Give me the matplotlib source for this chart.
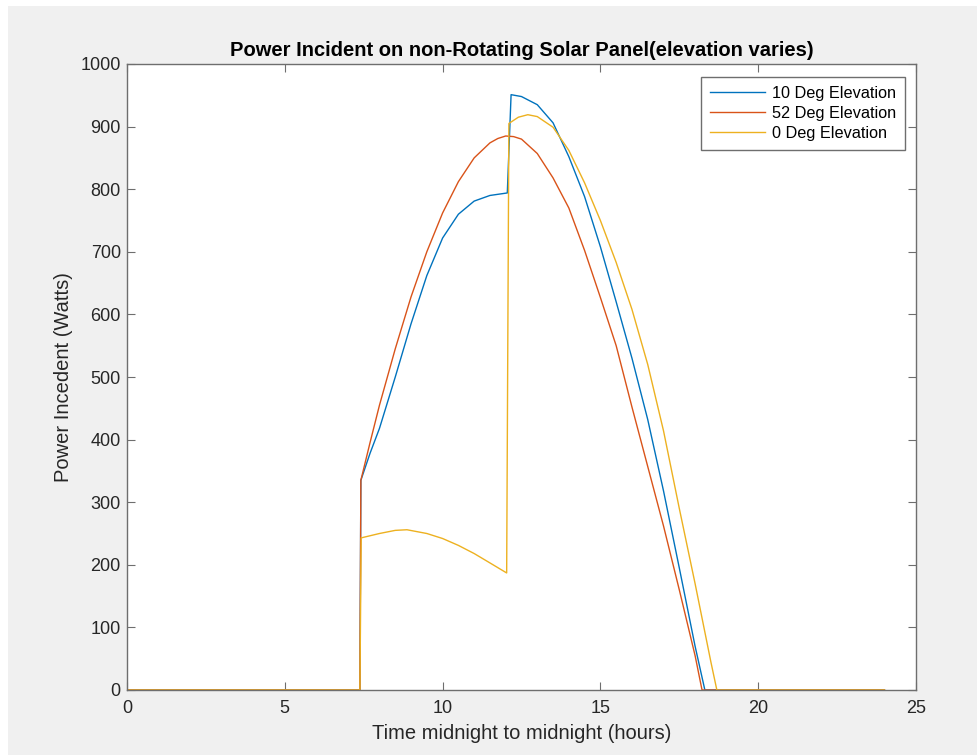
import matplotlib.pyplot as plt
from matplotlib.patches import Rectangle

# hours / watts
t10 = [0, 7.38, 7.41, 7.7, 8.0, 8.5, 9.0, 9.5, 10.0, 10.5, 11.0, 11.5, 12.05,
       12.17, 12.5, 13.0, 13.5, 14.0, 14.5, 15.0, 15.5, 16.0, 16.5, 17.0, 17.5, 18.0, 18.31, 24]
p10 = [0, 0, 335, 378, 418, 500, 585, 662, 722, 760, 781, 790, 794,
       951, 948, 935, 906, 852, 788, 708, 620, 530, 432, 318, 195, 70, 0, 0]

t52 = [0, 7.38, 7.41, 7.7, 8.0, 8.5, 9.0, 9.5, 10.0, 10.5, 11.0, 11.5, 11.75, 12.0,
       12.25, 12.5, 13.0, 13.5, 14.0, 14.5, 15.0, 15.5, 16.0, 16.5, 17.0, 17.5, 18.0, 18.22, 24]
p52 = [0, 0, 335, 395, 455, 545, 628, 700, 762, 812, 850, 874, 881, 885,
       884, 880, 857, 818, 770, 702, 627, 550, 452, 357, 262, 160, 55, 0, 0]

t0 = [0, 7.38, 7.42, 8.0, 8.5, 8.87, 9.5, 10.0, 10.5, 11.0, 11.5, 12.03,
      12.1, 12.4, 12.7, 13.0, 13.5, 14.0, 14.5, 15.0, 15.5, 16.0, 16.5, 17.0, 17.5, 18.0, 18.5, 18.69, 24]
p0 = [0, 0, 243, 250, 255, 256, 250, 242, 231, 218, 203, 187,
      905, 915, 919, 916, 899, 862, 810, 750, 683, 608, 520, 414, 290, 170, 45, 0, 0]

labels = ['10 Deg Elevation', '52 Deg Elevation', '0 Deg Elevation']
colors = ['#0072BD', '#D95319', '#EDB120']

plt.rcParams['font.family'] = ['Liberation Sans', 'DejaVu Sans']

fig = plt.figure(figsize=(9.77, 7.55), dpi=100, facecolor='white')
fig.patches.append(Rectangle((8 / 977, 0), 1, 749 / 755, transform=fig.transFigure,
                             facecolor='#f0f0f0', edgecolor='none', zorder=-10))
ax = fig.add_axes([127 / 977, 1 - 690 / 755, 789 / 977, 626 / 755])
ax.set_facecolor('white')

for t, p, lab, c in zip([t10, t52, t0], [p10, p52, p0], labels, colors):
    ax.plot(t, p, color=c, lw=1.0, label=lab)

ax.set_xlim(0, 25)
ax.set_ylim(0, 1000)
ax.set_xticks(range(0, 26, 5))
ax.set_yticks(range(0, 1001, 100))
ax.tick_params(direction='in', top=True, right=True, length=5.5, width=0.8,
               color='#6e6e6e', labelcolor='#262626', labelsize=13)
ax.tick_params(axis='x', pad=7)
ax.tick_params(axis='y', pad=4.5)
for s in ax.spines.values():
    s.set_color('#6e6e6e')
    s.set_linewidth(1.0)

ax.set_title('Power Incident on non-Rotating Solar Panel(elevation varies)',
             fontsize=14.5, fontweight='bold', pad=6)
ax.set_xlabel('Time midnight to midnight (hours)', fontsize=14.5, color='#262626', labelpad=5)
ax.set_ylabel('Power Incedent (Watts)', fontsize=14.5, color='#262626', labelpad=5)

leg = ax.legend(loc='upper right', fontsize=11.7, fancybox=False, framealpha=1,
                edgecolor='#6e6e6e', handlelength=3.4, handletextpad=0.4,
                borderpad=0.55, labelspacing=0.3, borderaxespad=0,
                bbox_to_anchor=(0.986, 0.979))
leg.get_frame().set_linewidth(1.0)

fig.savefig('out.png', dpi=100)
